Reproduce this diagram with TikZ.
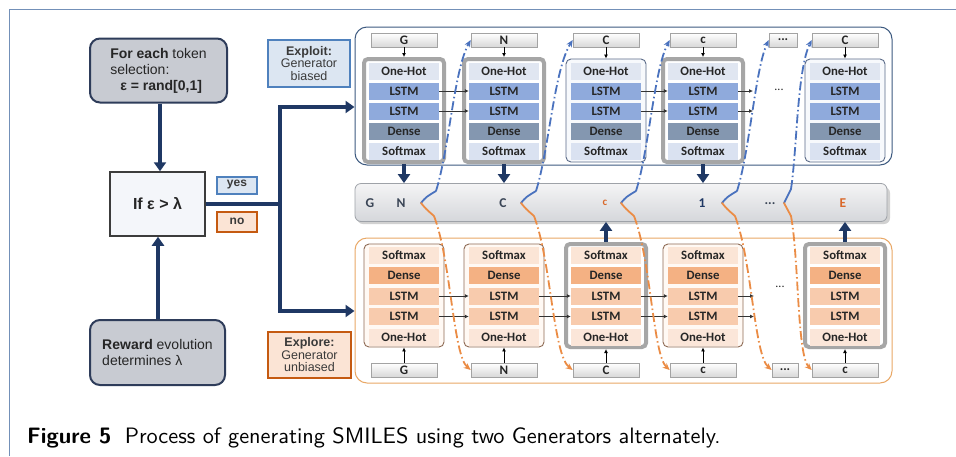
\documentclass[tikz,border=0pt]{standalone}
\usepackage{fontspec}
\usetikzlibrary{arrows.meta}
\newfontfamily\cellfont{Carlito}
\newfontfamily\arialfont{Liberation Sans}
\newfontfamily\capfont{lmsans10-regular.otf}[BoldFont=lmsans10-bold.otf]

\definecolor{navy}{HTML}{1F3864}
\definecolor{pageline}{HTML}{7390B8}
\definecolor{boxgray}{HTML}{C8CBD2}
\definecolor{boxedge}{HTML}{2E3C5A}
\definecolor{iffill}{HTML}{F4F6FA}
\definecolor{ifedge}{HTML}{3C3C3C}
\definecolor{yesfill}{HTML}{DCE6F2}
\definecolor{yesedge}{HTML}{4F81BD}
\definecolor{nofill}{HTML}{FBE4D5}
\definecolor{noedge}{HTML}{C55A11}
\definecolor{paneltop}{HTML}{3D5A80}
\definecolor{panelbot}{HTML}{E9A866}
\definecolor{bartop}{HTML}{F4F4F5}
\definecolor{barbot}{HTML}{D5D7DB}
\definecolor{baredge}{HTML}{9EA2A8}
\definecolor{tOH}{HTML}{E0E6F1}
\definecolor{tLS}{HTML}{8FAADC}
\definecolor{tDE}{HTML}{8497B0}
\definecolor{tSM}{HTML}{DAE2F1}
\definecolor{bOH}{HTML}{FBE6D9}
\definecolor{bLS}{HTML}{F8CBAD}
\definecolor{bDE}{HTML}{F4B183}
\definecolor{bSM}{HTML}{FBE5D6}
\definecolor{framegray}{HTML}{A6A6A6}
\definecolor{coldtopedge}{HTML}{5B6B88}
\definecolor{coldtopfill}{HTML}{F7F9FC}
\definecolor{coldbotedge}{HTML}{8E6B55}
\definecolor{coldbotfill}{HTML}{FFF9F4}
\definecolor{flowblue}{HTML}{4A72BE}
\definecolor{floworange}{HTML}{EB8C45}
\definecolor{txt}{HTML}{262626}
\definecolor{lbltxt}{HTML}{3A3A3A}
\definecolor{tokedge}{HTML}{A3A3A3}
\definecolor{tokbot}{HTML}{D8D8D8}
\definecolor{barletter}{HTML}{3A4556}
\definecolor{orangeletter}{HTML}{D9682A}

\tikzset{
  navyline/.style={draw=navy, line width=3.6pt},
  navyarrow/.style={navyline, -{Triangle[length=9pt,width=12pt]}},
  lbox/.style={draw=boxedge, line width=2pt, rounded corners=10pt, fill=boxgray,
    inner sep=0pt, text=txt, font=\arialfont\fontsize{14}{16}\selectfont},
  tagbox/.style={line width=2pt, inner sep=0pt, text=lbltxt,
    font=\arialfont\fontsize{12.5}{12.5}\selectfont, align=center},
  cell/.style={minimum width=70pt, minimum height=17pt, inner sep=0pt, text=txt,
    font=\cellfont\bfseries\fontsize{12.8}{12.8}\selectfont},
  ohT/.style={cell, fill=tOH}, lsT/.style={cell, fill=tLS},
  deT/.style={cell, fill=tDE}, smT/.style={cell, fill=tSM},
  ohB/.style={cell, fill=bOH}, lsB/.style={cell, fill=bLS},
  deB/.style={cell, fill=bDE}, smB/.style={cell, fill=bSM},
  hotframe/.style={draw=framegray, line width=4pt, rounded corners=4pt, fill=white,
    minimum width=80pt, minimum height=103pt, inner sep=0pt},
  coldtop/.style={draw=coldtopedge, line width=0.9pt, rounded corners=5pt, fill=coldtopfill,
    minimum width=80pt, minimum height=103pt, inner sep=0pt},
  coldbot/.style={draw=coldbotedge, line width=0.9pt, rounded corners=5pt, fill=coldbotfill,
    minimum width=80pt, minimum height=103pt, inner sep=0pt},
  tok/.style={draw=tokedge, line width=0.6pt, top color=white, bottom color=tokbot,
    minimum width=66pt, minimum height=14pt, inner sep=0pt, text=txt,
    font=\cellfont\bfseries\fontsize{13}{13}\selectfont},
  tiny arrow/.style={draw=black, line width=0.8pt, -{Latex[length=4pt,width=4pt]}},
  lstm arrow/.style={draw=black!80, line width=0.8pt, -{Latex[length=4pt,width=4pt]}},
  barlabel/.style={inner sep=0pt, font=\cellfont\bfseries\fontsize{13.5}{13.5}\selectfont},
  bluebranch/.style={draw=flowblue, line width=1.8pt, line cap=round},
  orangebranch/.style={draw=floworange, line width=1.8pt, line cap=round},
  bluedd/.style={draw=flowblue, line width=1.8pt, dash pattern=on 9pt off 3pt on 1.5pt off 3pt,
    -{Stealth[length=7pt,width=6pt]}},
  orangedd/.style={draw=floworange, line width=1.8pt, dash pattern=on 9pt off 3pt on 1.5pt off 3pt,
    -{Stealth[length=7pt,width=6pt]}},
}

\begin{document}
\begin{tikzpicture}[x=1pt,y=-1pt]
\useasboundingbox (0,0) rectangle (956,456);
\fill[white] (0,0) rectangle (956,456);

% page rule
\draw[pageline, line width=1pt] (9,456) -- (9,9) -- (956,9);

% ---------- decision flow on the left ----------
\node[lbox, minimum width=137pt, minimum height=64pt, align=left] (fe) at (158.5,70.5)
  {\textbf{For each} token\\selection:\\\hspace*{10pt}\textbf{ε = rand[0,1]}};
\node[draw=ifedge, line width=1.5pt, fill=iffill, minimum width=95pt, minimum height=64pt,
  inner sep=0pt, text=txt, font=\arialfont\bfseries\fontsize{16}{16}\selectfont] (ifb) at (157.5,204)
  {If ε > λ};
\node[lbox, minimum width=135pt, minimum height=65pt, align=left] (rw) at (157.5,352.5)
  {\textbf{Reward} evolution\\determines λ};
\node[tagbox, draw=yesedge, fill=yesfill, minimum width=40pt, minimum height=17pt,
  font=\arialfont\bfseries\fontsize{12}{12}\selectfont] (yes) at (237,185) {yes};
\node[tagbox, draw=noedge, fill=nofill, minimum width=40pt, minimum height=20pt,
  font=\arialfont\bfseries\fontsize{12}{12}\selectfont] (no) at (237,221.5) {no};

\draw[navyarrow] (fe.south -| 160,0) -- (ifb.north -| 160,0);
\draw[navyarrow] (rw.north -| 158,0) -- (ifb.south -| 158,0);

% ---------- the two generator panels and the output bar ----------
\node[draw=paneltop, line width=1pt, rounded corners=12pt, fill=white,
  minimum width=537pt, minimum height=138pt, inner sep=0pt] (ptop) at (623.5,96) {};
\node[draw=panelbot, line width=1pt, rounded corners=12pt, fill=white,
  minimum width=537pt, minimum height=145pt, inner sep=0pt] (pbot) at (623.5,310.5) {};
\fill[black!18, rounded corners=6pt] (357,187) rectangle (890,224);
\node[draw=baredge, line width=0.8pt, rounded corners=6pt, top color=bartop, bottom color=barbot,
  minimum width=532pt, minimum height=38pt, inner sep=0pt] (bar) at (621,202.5) {};

\node[tagbox, draw=yesedge, fill=yesfill, minimum width=82pt, minimum height=47pt] (exploit)
  at (309,63.5) {\textbf{Exploit:}\\Generator\\biased};
\node[tagbox, draw=noedge, fill=nofill, minimum width=83pt, minimum height=46pt] (explore)
  at (309.5,355) {\textbf{Explore:}\\Generator\\unbiased};

% split of the decision into the two panels
\coordinate (sp) at (280,204);
\coordinate (spt) at (280,107);
\coordinate (spb) at (280,311);
\draw[navyline] (ifb.east |- sp) -- (sp);
\draw[navyarrow] (sp) -- (spt) -- (spt -| ptop.west);
\draw[navyarrow] (sp) -- (spb) -- (spb -| pbot.west);

% ---------- exploit generator (top) ----------
\foreach \i/\x/\t/\fr in {1/404/G/hotframe,2/504/N/hotframe,3/606/C/coldtop,4/703/c/hotframe,6/845/C/coldtop}{
  \node[\fr] (tf\i) at (\x,110.5) {};
  \node[tok] (tk\i) at (\x,40) {\t};
  \node[ohT] (toh\i) at (\x,71) {One-Hot};
  \node[lsT] (tla\i) at (\x,91) {LSTM};
  \node[lsT] (tlb\i) at (\x,111) {LSTM};
  \node[deT] (tde\i) at (\x,131) {Dense};
  \node[smT] (tsm\i) at (\x,151) {Softmax};
  \draw[tiny arrow] (tk\i.south) -- (tf\i.north);
}
\node[tok, minimum width=28pt] (tk5) at (783,40) {...};
\node[inner sep=0pt, text=txt, font=\cellfont\fontsize{12}{12}\selectfont] (tdots) at (779,90) {...};
\coordinate (tea) at (753,91);
\coordinate (teb) at (753,111);
\draw[lstm arrow] (tla1.east) -- (tla2.west);
\draw[lstm arrow] (tlb1.east) -- (tlb2.west);
\draw[lstm arrow] (tla3.east) -- (tla4.west);
\draw[lstm arrow] (tlb3.east) -- (tlb4.west);
\draw[lstm arrow] (tla4.east) -- (tea);
\draw[lstm arrow] (tlb4.east) -- (teb);

% ---------- explore generator (bottom) ----------
\foreach \i/\x/\t/\fr in {1/404/G/coldbot,2/504/N/coldbot,3/606/C/hotframe,4/703/c/coldbot,6/845/c/hotframe}{
  \node[\fr] (bf\i) at (\x,295.5) {};
  \node[tok] (bk\i) at (\x,370) {\t};
  \node[smB] (bsm\i) at (\x,255) {Softmax};
  \node[deB] (bde\i) at (\x,275.5) {Dense};
  \node[lsB] (bla\i) at (\x,296) {LSTM};
  \node[lsB] (blb\i) at (\x,316.5) {LSTM};
  \node[ohB] (boh\i) at (\x,337) {One-Hot};
  \draw[tiny arrow] (bk\i.north) -- (bf\i.south);
}
\node[tok, minimum width=26pt] (bk5) at (785,370) {...};
\node[inner sep=0pt, text=txt, font=\cellfont\fontsize{12}{12}\selectfont] (bdots) at (780,287) {...};
\coordinate (bea) at (754,296);
\coordinate (beb) at (754,316.5);
\foreach \a/\b in {1/2,2/3,3/4}{
  \draw[lstm arrow] (bla\a.east) -- (bla\b.west);
  \draw[lstm arrow] (blb\a.east) -- (blb\b.west);
}
\draw[lstm arrow] (bla4.east) -- (bea);
\draw[lstm arrow] (blb4.east) -- (beb);

% ---------- outputs collected in the bar ----------
\draw[navyarrow] (tf1.south) -- (tf1.south |- bar.north);
\draw[navyarrow] (tf2.south) -- (tf2.south |- bar.north);
\draw[navyarrow] (tf4.south) -- (tf4.south |- bar.north);
\draw[navyarrow] (bf3.north) -- (bf3.north |- bar.south);
\draw[navyarrow] (bf6.north) -- (bf6.north |- bar.south);

\node[barlabel, text=barletter] (oG) at (370,203) {G};
\node[barlabel, text=barletter] (oN) at (401,203) {N};
\node[barlabel, text=barletter] (oC) at (503,203) {C};
\node[barlabel, text=orangeletter, font=\cellfont\bfseries\fontsize{11}{11}\selectfont] (oc) at (605,203) {c};
\node[barlabel, text=navy] (o1) at (702,203) {1};
\node[barlabel, text=barletter] (odots) at (770,204) {...};
\node[barlabel, text=orangeletter] (oE) at (843,203) {E};

% ---------- each sampled token is fed to both generators ----------
\foreach \n/\sx in {2/421,3/521,4/621,5/722}{
  \coordinate (br\n) at (\sx,203);
  \draw[bluebranch] (br\n) .. controls ([shift={(5,-6)}]br\n) .. ([shift={(15,-12)}]br\n) coordinate (bu\n);
  \draw[orangebranch] (br\n) .. controls ([shift={(5,6)}]br\n) .. ([shift={(13,13)}]br\n) coordinate (bd\n);
  \draw[bluedd] (bu\n) .. controls ([shift={(13,-41)}]bu\n) and ([shift={(18,-121)}]bu\n) .. (tk\n.west);
  \draw[orangedd] (bd\n) .. controls ([shift={(17,44)}]bd\n) and ([shift={(19,139)}]bd\n) .. (bk\n.west);
}
\coordinate (br6) at (784,203);
\draw[bluebranch] (br6) .. controls (787,197) .. (791,189) coordinate (bu6);
\draw[orangebranch] (br6) .. controls (787,209) .. (791,216) coordinate (bd6);
\draw[bluedd] (bu6) .. controls (797,150) and (797,70) .. (tk6.west);
\draw[orangedd] (bd6) .. controls (799,260) and (797,355) .. (bk6.west);

% ---------- caption ----------
\node[anchor=base west, inner sep=0pt, font=\capfont\fontsize{22.3}{25}\selectfont] (cap) at (27,443)
  {\textbf{Figure 5}\hspace{0.6em}Process of generating SMILES using two Generators alternately.};
\end{tikzpicture}
\end{document}
